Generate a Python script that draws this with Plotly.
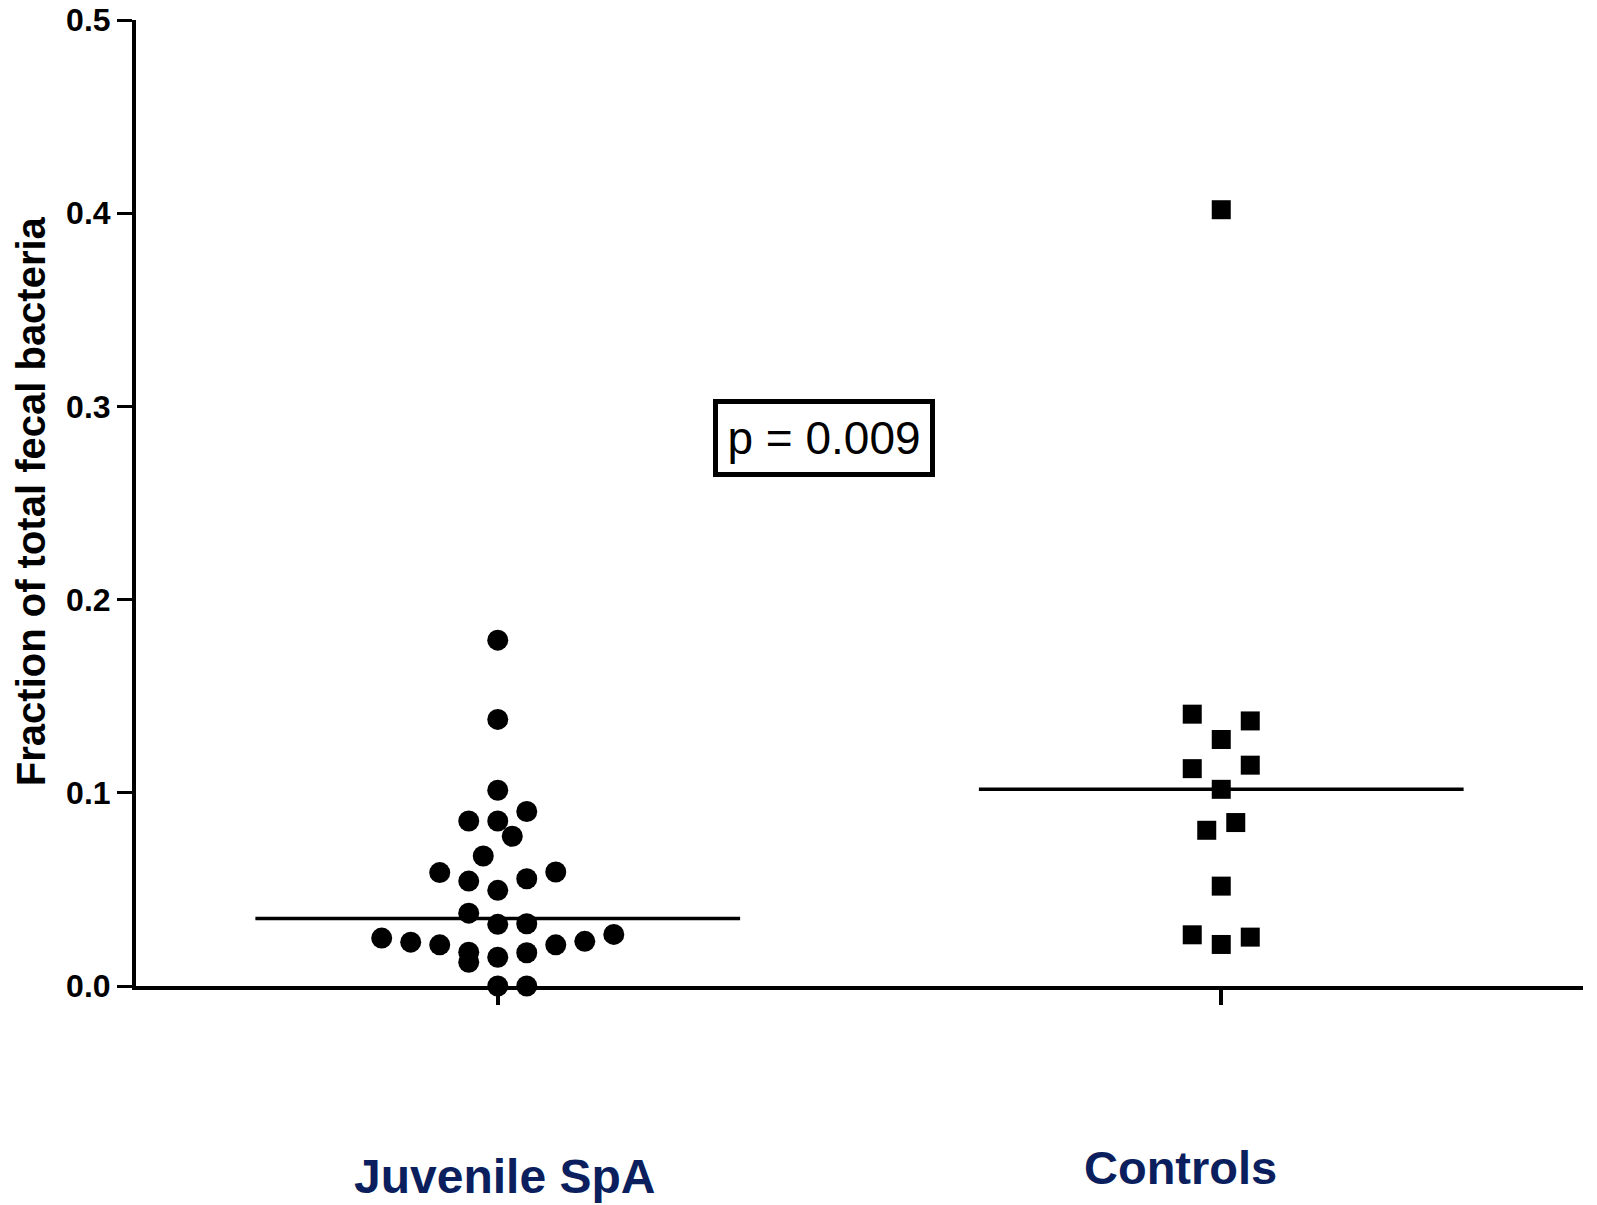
import numpy as np
import plotly.graph_objects as go

# ---- data ----
categories = ["Juvenile SpA", "Controls"]

juvenile_values = [0.179, 0.138, 0.1013, 0.0854, 0.0854, 0.0903, 0.0775, 0.0673,
                   0.0587, 0.0543, 0.0495, 0.0555, 0.0590, 0.0377, 0.0319, 0.0322,
                   0.0248, 0.0227, 0.0213, 0.0175, 0.0123, 0.0149, 0.0172, 0.0213,
                   0.0231, 0.0267, 0.0, 0.0]
# dot-plot column of each point
juvenile_columns = [0, 0, 0, -1, 0, 1, 0.5, -0.5,
                    -2, -1, 0, 1, 2, -1, 0, 1,
                    -4, -3, -2, -1, -1, 0, 1, 2,
                    3, 4, 0, 1]

control_values = [0.4018, 0.1407, 0.1372, 0.1276, 0.1125, 0.1143, 0.1018,
                  0.0806, 0.0846, 0.0517, 0.0265, 0.0215, 0.0253]
control_columns = [0, -1, 1, 0, -1, 1, 0, -0.5, 0.5, 0, -1, 0, 1]

y_tick_values = [0.0, 0.1, 0.2, 0.3, 0.4, 0.5]
y_tick_labels = ["0.0", "0.1", "0.2", "0.3", "0.4", "0.5"]
y_title = "Fraction of total fecal bacteria"
p_text = "p = 0.009"

# ---- styling ----
FONT = "Liberation Sans, Arial, Helvetica, sans-serif"
NAVY = "#0b1f5e"
COL_STEP = 0.0401      # horizontal spacing between dot columns (x units)
HALF_MEDIAN = 0.335    # half width of the median line (x units)

fig = go.Figure()

groups = [
    (0, juvenile_values, juvenile_columns, "circle", 21),
    (1, control_values, control_columns, "square", 19),
]
for idx, vals, cols, symbol, size in groups:
    xs = [idx + c * COL_STEP for c in cols]
    fig.add_trace(go.Scatter(
        x=xs, y=vals, mode="markers", cliponaxis=False,
        marker=dict(symbol=symbol, size=size, color="black",
                    line=dict(width=0)),
        showlegend=False, hoverinfo="y"))
    med = float(np.median(vals))
    fig.add_trace(go.Scatter(
        x=[idx - HALF_MEDIAN, idx + HALF_MEDIAN], y=[med, med],
        mode="lines", line=dict(color="black", width=3.5),
        showlegend=False, hoverinfo="skip", cliponaxis=False))

fig.update_layout(
    width=1597, height=1205,
    margin=dict(l=128, r=22, t=12, b=227, autoexpand=False),
    paper_bgcolor="white", plot_bgcolor="white",
    font=dict(family=FONT, color="black"),
    xaxis=dict(range=[-0.5, 1.5], showgrid=False, zeroline=False,
               showline=True, linecolor="black", linewidth=4,
               tickvals=[0, 1], ticks="outside", ticklen=15, tickwidth=4,
               tickcolor="black", showticklabels=False, fixedrange=True,
               automargin=False),
    yaxis=dict(range=[0, 0.5], showgrid=False, zeroline=False,
               showline=True, linecolor="black", linewidth=4,
               tickvals=y_tick_values, ticktext=y_tick_labels,
               ticks="outside", ticklen=15, tickwidth=3, tickcolor="black",
               tickfont=dict(family=FONT, size=32, color="black", weight="bold"),
               ticklabelstandoff=0, ticklabeloverflow="allow",
               fixedrange=True, automargin=False),
)

# y-axis title
fig.add_annotation(
    text=y_title, xref="paper", yref="paper", x=-0.0729, y=0.5014,
    xanchor="center", yanchor="middle", textangle=-90, showarrow=False,
    font=dict(family=FONT, size=40, color="black", weight="bold"))

# category labels
fig.add_annotation(
    text=categories[0], xref="x", yref="paper", x=0, xshift=7, y=-0.1977,
    xanchor="center", yanchor="middle", showarrow=False,
    font=dict(family=FONT, size=48, color=NAVY, weight="bold"))
fig.add_annotation(
    text=categories[1], xref="x", yref="paper", x=1, xshift=-41, y=-0.1874,
    xanchor="center", yanchor="middle", showarrow=False,
    font=dict(family=FONT, size=47, color=NAVY, weight="bold"))

# p-value box
fig.add_annotation(
    text=p_text, xref="x", yref="y", x=0.4516, y=0.2836,
    xanchor="center", yanchor="middle", showarrow=False,
    bordercolor="black", borderwidth=5, borderpad=3, bgcolor="white",
    width=206, height=62,
    font=dict(family=FONT, size=46, color="black"))

fig.write_html("out.html")
